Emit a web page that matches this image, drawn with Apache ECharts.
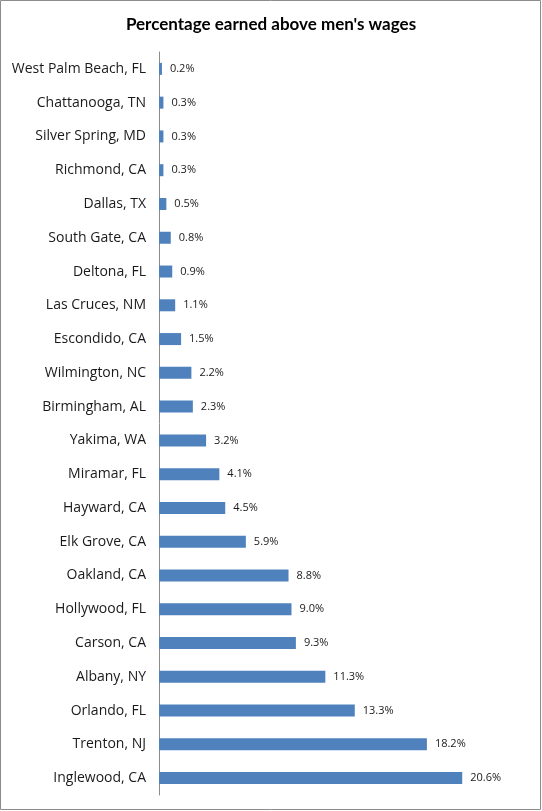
<!DOCTYPE html>
<html>
<head>
<meta charset="utf-8">
<script src="https://cdn.jsdelivr.net/npm/echarts@6/dist/echarts.min.js"></script>
<style>
  html, body { margin: 0; padding: 0; background: #fff; }
  #chart { width: 542px; height: 811px; }
</style>
</head>
<body>
<div id="chart"></div>
<script>
const cities = [
  'West Palm Beach, FL', 'Chattanooga, TN', 'Silver Spring, MD', 'Richmond, CA',
  'Dallas, TX', 'South Gate, CA', 'Deltona, FL', 'Las Cruces, NM', 'Escondido, CA',
  'Wilmington, NC', 'Birmingham, AL', 'Yakima, WA', 'Miramar, FL', 'Hayward, CA',
  'Elk Grove, CA', 'Oakland, CA', 'Hollywood, FL', 'Carson, CA', 'Albany, NY',
  'Orlando, FL', 'Trenton, NJ', 'Inglewood, CA'
];
const pctAbove = [
  0.2, 0.3, 0.3, 0.3, 0.5, 0.8, 0.9, 1.1, 1.5, 2.2, 2.3,
  3.2, 4.1, 4.5, 5.9, 8.8, 9.0, 9.3, 11.3, 13.3, 18.2, 20.6
];

const titleFont = 'Lato, "Open Sans", sans-serif';
const font = '"Open Sans", Lato, sans-serif';
const chart = echarts.init(document.getElementById('chart'));

chart.setOption({
  animation: false,
  title: {
    text: "Percentage earned above men's wages",
    left: 'center',
    top: 11,
    textStyle: { fontFamily: titleFont, fontSize: 17, fontWeight: 'bold', color: '#000' }
  },
  graphic: [{
    type: 'rect',
    shape: { x: 0.5, y: 0.5, width: 540, height: 809 },
    style: { fill: 'none', stroke: '#8c8c8c', lineWidth: 1 },
    silent: true
  }],
  grid: { left: 159, right: 15, top: 52, bottom: 16 },
  xAxis: {
    type: 'value',
    min: 0,
    max: 25,
    show: false
  },
  yAxis: {
    type: 'category',
    data: cities,
    inverse: true,
    axisLine: { lineStyle: { color: '#8c8c8c', width: 1 } },
    axisTick: { show: false },
    axisLabel: { fontFamily: font, fontSize: 14, color: '#1a1a1a', margin: 13 }
  },
  series: [{
    type: 'bar',
    data: pctAbove,
    barWidth: 12,
    itemStyle: { color: '#4f81bd' },
    label: {
      show: true,
      position: 'right',
      distance: 8,
      fontFamily: font,
      fontSize: 11,
      color: '#1a1a1a',
      formatter: p => p.value.toFixed(1) + '%'
    }
  }]
});
</script>
</body>
</html>
